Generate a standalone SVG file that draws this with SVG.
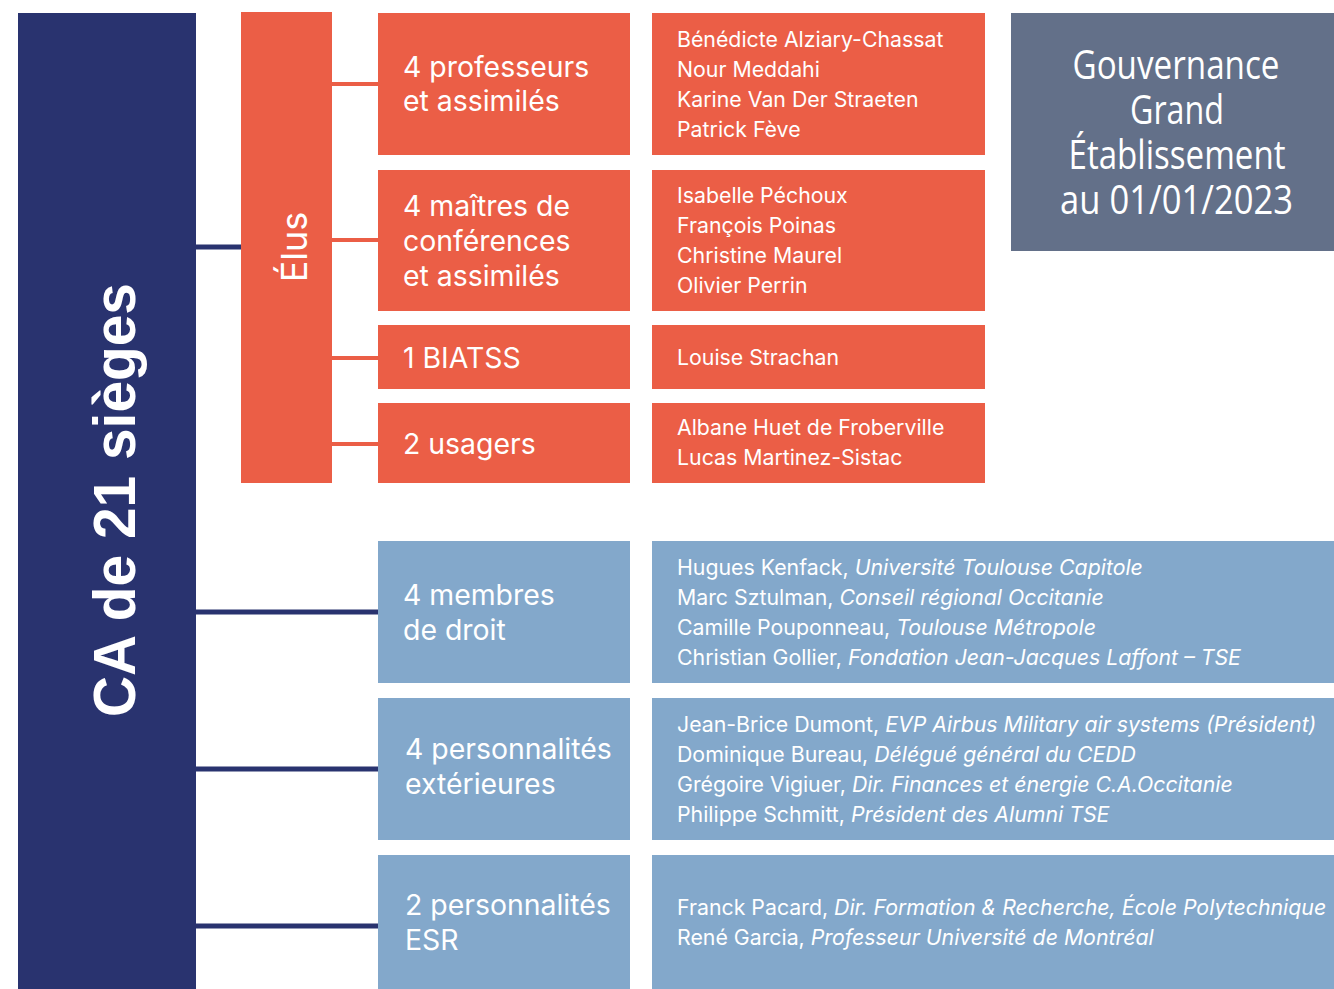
<svg xmlns="http://www.w3.org/2000/svg" width="1334" height="989" viewBox="0 0 1334 989">
<style>
.navy{fill:#29336F}
.orange{fill:#EB5E46}
.blue{fill:#83A8CB}
.slate{fill:#637089}
.lbl{font-family:Inter,"Noto Sans",sans-serif;font-size:28.4px;fill:#fff}
.nm{font-family:Inter,"Noto Sans",sans-serif;font-size:21.3px;fill:#fff}
.it{font-style:italic}
.cn-n{stroke:#29336F;stroke-width:5;fill:none}
.cn-o{stroke:#EB5E46;stroke-width:4;fill:none}
.title{font-family:"Open Sans","Noto Sans",sans-serif;font-size:40px;fill:#fff;text-anchor:middle}
</style>
<rect width="1334" height="989" fill="#fff"/>
<g id="connectors">
<line class="cn-n" x1="196" y1="247" x2="241" y2="247"/>
<line class="cn-n" x1="196" y1="612" x2="378" y2="612"/>
<line class="cn-n" x1="196" y1="769" x2="378" y2="769"/>
<line class="cn-n" x1="196" y1="926" x2="378" y2="926"/>
<line class="cn-o" x1="332" y1="84" x2="378" y2="84"/>
<line class="cn-o" x1="332" y1="240" x2="378" y2="240"/>
<line class="cn-o" x1="332" y1="358" x2="378" y2="358"/>
<line class="cn-o" x1="332" y1="444" x2="378" y2="444"/>
</g>
<g id="ca">
<rect class="navy" x="18" y="13" width="178" height="976"/>
<text transform="translate(135,500) rotate(-90)" text-anchor="middle" font-family="'Liberation Sans',Arial,sans-serif" font-weight="bold" font-size="59" fill="#fff" textLength="434" lengthAdjust="spacingAndGlyphs">CA de 21 sièges</text>
</g>
<g id="elus">
<rect class="orange" x="241" y="12" width="91" height="471"/>
<text transform="translate(307,247) rotate(-90)" text-anchor="middle" font-family="Inter,'Noto Sans',sans-serif" font-size="36" fill="#fff">Élus</text>
</g>
<g id="professeurs">
<rect class="orange" x="378" y="13" width="252" height="142"/>
<text class="lbl" x="403" y="76.5">4 professeurs</text>
<text class="lbl" x="403" y="111">et assimilés</text>
</g>
<g id="professeurs-noms">
<rect class="orange" x="652" y="13" width="333" height="142"/>
<text class="nm" x="677" y="46.5">Bénédicte Alziary-Chassat</text>
<text class="nm" x="677" y="76.5">Nour Meddahi</text>
<text class="nm" x="677" y="106.5">Karine Van Der Straeten</text>
<text class="nm" x="677" y="136.5">Patrick Fève</text>
</g>
<g id="maitres">
<rect class="orange" x="378" y="170" width="252" height="141"/>
<text class="lbl" x="403" y="216">4 maîtres de</text>
<text class="lbl" x="403" y="251">conférences</text>
<text class="lbl" x="403" y="286">et assimilés</text>
</g>
<g id="maitres-noms">
<rect class="orange" x="652" y="170" width="333" height="141"/>
<text class="nm" x="677" y="202.5">Isabelle Péchoux</text>
<text class="nm" x="677" y="232.5">François Poinas</text>
<text class="nm" x="677" y="262.5">Christine Maurel</text>
<text class="nm" x="677" y="292.5">Olivier Perrin</text>
</g>
<g id="biatss">
<rect class="orange" x="378" y="325" width="252" height="64"/>
<text class="lbl" x="403" y="367.5">1 BIATSS</text>
</g>
<g id="biatss-noms">
<rect class="orange" x="652" y="325" width="333" height="64"/>
<text class="nm" x="677" y="364.5">Louise Strachan</text>
</g>
<g id="usagers">
<rect class="orange" x="378" y="403" width="252" height="80"/>
<text class="lbl" x="403" y="453.5">2 usagers</text>
</g>
<g id="usagers-noms">
<rect class="orange" x="652" y="403" width="333" height="80"/>
<text class="nm" x="677" y="434.5">Albane Huet de Froberville</text>
<text class="nm" x="677" y="464.5">Lucas Martinez-Sistac</text>
</g>
<g id="gouvernance">
<rect class="slate" x="1011" y="13" width="323" height="238"/>
<text class="title" x="1176" y="79" textLength="207" lengthAdjust="spacingAndGlyphs">Gouvernance</text>
<text class="title" x="1177" y="124" textLength="94" lengthAdjust="spacingAndGlyphs">Grand</text>
<text class="title" x="1177" y="169" textLength="217" lengthAdjust="spacingAndGlyphs">Établissement</text>
<text class="title" x="1176.5" y="214" textLength="233" lengthAdjust="spacingAndGlyphs">au 01/01/2023</text>
</g>
<g id="membres-droit">
<rect class="blue" x="378" y="541" width="252" height="142"/>
<text class="lbl" x="403" y="605">4 membres</text>
<text class="lbl" x="403" y="640">de droit</text>
</g>
<g id="membres-droit-noms">
<rect class="blue" x="652" y="541" width="682" height="142"/>
<text class="nm" x="677" y="574.5">Hugues Kenfack, <tspan class="it">Université Toulouse Capitole</tspan></text>
<text class="nm" x="677" y="604.5">Marc Sztulman, <tspan class="it">Conseil régional Occitanie</tspan></text>
<text class="nm" x="677" y="634.5">Camille Pouponneau, <tspan class="it">Toulouse Métropole</tspan></text>
<text class="nm" x="677" y="664.5">Christian Gollier, <tspan class="it">Fondation Jean-Jacques Laffont – TSE</tspan></text>
</g>
<g id="personnalites-ext">
<rect class="blue" x="378" y="698" width="252" height="142"/>
<text class="lbl" x="405" y="759">4 personnalités</text>
<text class="lbl" x="405" y="794">extérieures</text>
</g>
<g id="personnalites-ext-noms">
<rect class="blue" x="652" y="698" width="682" height="142"/>
<text class="nm" x="677" y="731.5">Jean-Brice Dumont, <tspan class="it">EVP Airbus Military air systems (Président)</tspan></text>
<text class="nm" x="677" y="761.5">Dominique Bureau, <tspan class="it">Délégué général du CEDD</tspan></text>
<text class="nm" x="677" y="791.5">Grégoire Vigiuer, <tspan class="it">Dir. Finances et énergie C.A.Occitanie</tspan></text>
<text class="nm" x="677" y="821.5">Philippe Schmitt, <tspan class="it">Président des Alumni TSE</tspan></text>
</g>
<g id="personnalites-esr">
<rect class="blue" x="378" y="855" width="252" height="134"/>
<text class="lbl" x="405" y="915">2 personnalités</text>
<text class="lbl" x="405" y="950">ESR</text>
</g>
<g id="personnalites-esr-noms">
<rect class="blue" x="652" y="855" width="682" height="134"/>
<text class="nm" x="677" y="914.5">Franck Pacard, <tspan class="it">Dir. Formation &amp; Recherche, École Polytechnique</tspan></text>
<text class="nm" x="677" y="944.5">René Garcia, <tspan class="it">Professeur Université de Montréal</tspan></text>
</g>
</svg>
